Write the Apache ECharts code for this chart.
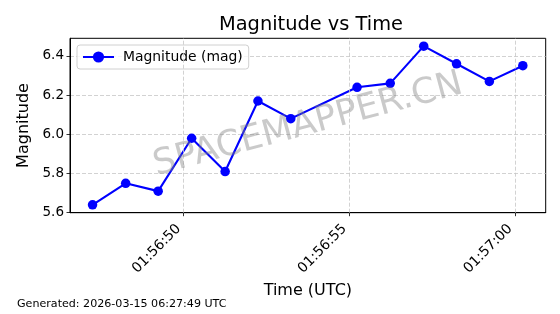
<!DOCTYPE html>
<html>
<head>
<meta charset="utf-8">
<script src="https://cdn.jsdelivr.net/npm/echarts@6/dist/echarts.min.js"></script>
<style>
html,body{margin:0;padding:0;background:#fff;}
#chart{width:560px;height:314px;}
</style>
</head>
<body>
<div id="chart"></div>
<script>
// ---- data ----
var times = ["01:56:47.25","01:56:48.25","01:56:49.23","01:56:50.24","01:56:51.25","01:56:52.24","01:56:53.23",
             "01:56:55.23","01:56:56.23","01:56:57.24","01:56:58.23","01:56:59.22","01:57:00.23"];
var magnitudes = [5.64, 5.75, 5.71, 5.98, 5.81, 6.17, 6.08, 6.24, 6.26, 6.45, 6.36, 6.27, 6.35];
var xTickLabels = ["01:56:50","01:56:55","01:57:00"];
var yTickValues = [5.6, 5.8, 6.0, 6.2, 6.4];
var xRange = ["01:56:46.57","01:57:00.92"];
var yRange = [5.6, 6.49];
var seriesName = "Magnitude (mag)";
var titleText = "Magnitude vs Time";
var xName = "Time (UTC)";
var yName = "Magnitude";
var footerText = "Generated: 2026-03-15 06:27:49 UTC";
var watermarkText = "SPACEMAPPER.CN";

function toSec(s){ var p = s.split(":"); return (+p[0])*3600 + (+p[1])*60 + parseFloat(p[2]); }
function pad(n){ return (n<10?"0":"")+n; }
function fmt(v){ var t = Math.round(v); var h = Math.floor(t/3600), m = Math.floor((t%3600)/60), s = t%60; return pad(h)+":"+pad(m)+":"+pad(s); }

var points = times.map(function(t,i){ return [toSec(t), magnitudes[i]]; });
var xTicks = xTickLabels.map(toSec);
var FONT = "DejaVu Sans";
var gridColor = "#c6c6c6";

var chart = echarts.init(document.getElementById('chart'), null, {renderer:'canvas'});
chart.setOption({
  animation: false,
  backgroundColor: '#fff',
  title: {
    text: titleText, left: 306, top: 10, textAlign: 'center',
    textStyle: {fontFamily: FONT, fontSize: 19.4, fontWeight: 'normal', color: '#000'}
  },
  legend: {
    data: [seriesName],
    left: 77, top: 45,
    orient: 'vertical',
    padding: [5, 6, 5, 5],
    itemWidth: 31, itemHeight: 14,
    borderColor: '#d0d0d0', borderWidth: 1, borderRadius: 3,
    backgroundColor: 'rgba(255,255,255,0.8)',
    textStyle: {fontFamily: FONT, fontSize: 13.9, color: '#000', padding: [0,0,0,4]}
  },
  grid: {left: 70, right: 14.3, top: 38.3, bottom: 101.3, show: true, borderColor: '#000', borderWidth: 1, backgroundColor: 'transparent'},
  xAxis: {
    type: 'value',
    min: toSec(xRange[0]), max: toSec(xRange[1]),
    name: xName, nameLocation: 'middle', nameGap: 69,
    nameTextStyle: {fontFamily: FONT, fontSize: 16, color: '#000'},
    axisLine: {show: true, lineStyle: {color: '#000', width: 1}},
    axisTick: {show: true, length: 3.5, lineStyle: {color: '#000', width: 0.8}, customValues: xTicks},
    axisLabel: {customValues: xTicks, rotate: 45, margin: 19, align: 'right', verticalAlign: 'bottom',
                fontFamily: FONT, fontSize: 13.9, color: '#000', formatter: fmt},
    splitLine: {show: false}
  },
  yAxis: {
    type: 'value',
    min: yRange[0], max: yRange[1], interval: 0.2,
    name: yName, nameLocation: 'middle', nameGap: 38,
    nameTextStyle: {fontFamily: FONT, fontSize: 16, color: '#000'},
    axisLine: {show: true, lineStyle: {color: '#000', width: 1}},
    axisTick: {show: true, length: 3.5, lineStyle: {color: '#000', width: 0.8}, customValues: yTickValues},
    axisLabel: {customValues: yTickValues, margin: 6, fontFamily: FONT, fontSize: 13.5, color: '#000',
                formatter: function(v){ return v.toFixed(1); }},
    splitLine: {show: true, lineStyle: {color: gridColor, width: 0.8, type: [4, 2]}}
  },
  series: [
    {
      name: 'grid', type: 'line', data: [], z: 1, silent: true,
      markLine: {
        silent: true, symbol: ['none','none'], animation: false,
        label: {show: false},
        lineStyle: {color: gridColor, width: 0.8, type: [4, 2]},
        data: xTicks.map(function(v){ return {xAxis: v}; })
      }
    },
    {
      name: seriesName, type: 'line', data: points, z: 3,
      symbol: 'circle', symbolSize: 9.5,
      itemStyle: {color: '#0000ff'},
      lineStyle: {color: '#0000ff', width: 2.1}
    }
  ],
  graphic: [
    {
      type: 'text', x: 308, y: 125, rotation: 15 * Math.PI / 180, z: 10, silent: true,
      style: {text: watermarkText, x: 0, y: 0, align: 'center', verticalAlign: 'middle',
              fill: 'rgba(128,128,128,0.42)', font: '35.5px "DejaVu Sans"'}
    },
    {
      type: 'text', left: 17, top: 299, silent: true,
      style: {text: footerText, fill: '#000', font: '11.1px "DejaVu Sans"'}
    }
  ]
});
</script>
</body>
</html>
